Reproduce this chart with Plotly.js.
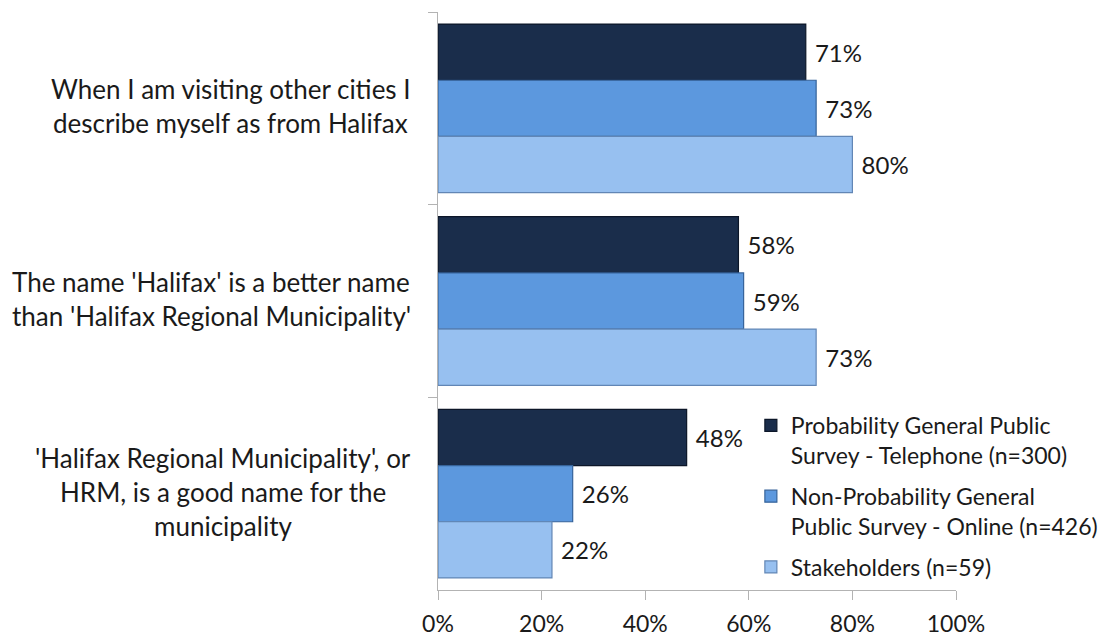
<!DOCTYPE html>
<html>
<head>
<meta charset="utf-8">
<script src="https://cdn.plot.ly/plotly-3.0.1.min.js"></script>
<style>
html,body{margin:0;padding:0;background:#fff;}
#chart{width:1100px;height:639px;}
</style>
</head>
<body>
<div id="chart"></div>
<script>
// ---- data ----
const categories = [
  "When I am visiting other cities I<br>describe myself as from Halifax",
  "The name 'Halifax' is a better name<br>than 'Halifax Regional Municipality'",
  "'Halifax Regional Municipality', or<br>HRM, is a good name for the<br>municipality"
];
const seriesNames = [
  "Probability General Public<br>Survey - Telephone (n=300)",
  "Non-Probability General<br>Public Survey - Online (n=426)",
  "Stakeholders (n=59)"
];
const telephone = [71, 58, 48];
const online = [73, 59, 26];
const stakeholders = [80, 73, 22];
const xTickVals = [0, 20, 40, 60, 80, 100];
const xTickText = ["0%", "20%", "40%", "60%", "80%", "100%"];

// ---- style ----
const FONT = "Lato, 'Open Sans', sans-serif";
const FS_CAT = 26;
const FS_LEG = 23;
const FS_VAL = 24;
const FS_TICK = 23;
const colors = ["#1a2d4b", "#5c98de", "#97c0f0"];
const lineColors = ["#0c1628", "#36639a", "#6286b5"];
const seriesValues = [telephone, online, stakeholders];

const W = 1100, H = 639;
const margin = {l: 438, r: 144, t: 12, b: 49, pad: 0, autoexpand: false};
const plotW = W - margin.l - margin.r;

const traces = seriesValues.map((vals, i) => ({
  type: "bar",
  orientation: "h",
  name: seriesNames[i],
  legendgroup: "g" + i,
  y: categories,
  x: vals,
  text: vals.map(v => v + "%"),
  texttemplate: "\u00a0%{text}",
  textposition: "outside",
  constraintext: "none",
  cliponaxis: false,
  textfont: {family: FONT, size: FS_VAL, color: "#1a1a1a"},
  marker: {color: colors[i], line: {color: lineColors[i], width: 1.2}},
  hoverinfo: "x+y"
}));

// measure text for centred multi-line category labels
const cvs = document.createElement("canvas");
const ctx = cvs.getContext("2d");
ctx.font = FS_CAT + "px Lato";
const LINE_GAP = 34;
const labelRight = 411; // px
const annotations = [];
categories.forEach(cat => {
  const lines = cat.split("<br>");
  const maxW = Math.max(...lines.map(l => ctx.measureText(l).width));
  const centerPx = labelRight - maxW / 2;
  const xPaper = (centerPx - margin.l) / plotW;
  lines.forEach((ln, j) => {
    annotations.push({
      xref: "paper", yref: "y", x: xPaper, y: cat,
      xanchor: "center", yanchor: "middle",
      text: ln, showarrow: false,
      yshift: -((j - (lines.length - 1) / 2) * LINE_GAP) + 2,
      font: {family: FONT, size: FS_CAT, color: "#1a1a1a"}
    });
  });
});

const layout = {
  width: W, height: H,
  margin: margin,
  paper_bgcolor: "#ffffff",
  plot_bgcolor: "#ffffff",
  font: {family: FONT, size: FS_LEG, color: "#1a1a1a"},
  barmode: "group",
  bargap: 0.125,
  bargroupgap: 0,
  showlegend: true,
  legend: {
    x: 0.604, xanchor: "left",
    y: 0.322, yanchor: "top",
    valign: "top",
    tracegroupgap: 8,
    bgcolor: "rgba(0,0,0,0)",
    font: {family: FONT, size: FS_LEG, color: "#1a1a1a"},
    traceorder: "grouped"
  },
  xaxis: {
    range: [0, 100],
    tickvals: xTickVals,
    ticktext: xTickText,
    ticks: "outside", ticklen: 9, tickcolor: "#b3b3b3", tickwidth: 1,
    showline: true, linecolor: "#b3b3b3", linewidth: 1,
    showgrid: false, zeroline: false,
    ticklabelstandoff: 4,
    tickfont: {family: FONT, size: FS_TICK, color: "#1a1a1a"},
    fixedrange: true
  },
  yaxis: {
    type: "category",
    categoryorder: "array",
    categoryarray: categories,
    autorange: "reversed",
    showticklabels: false,
    ticks: "outside", ticklen: 9, tickcolor: "#b3b3b3", tickwidth: 1,
    tickson: "boundaries",
    showline: true, linecolor: "#b3b3b3", linewidth: 1,
    showgrid: false, zeroline: false,
    fixedrange: true
  },
  annotations: annotations
};

Plotly.newPlot("chart", traces, layout, {displayModeBar: false, staticPlot: true});
</script>
</body>
</html>
